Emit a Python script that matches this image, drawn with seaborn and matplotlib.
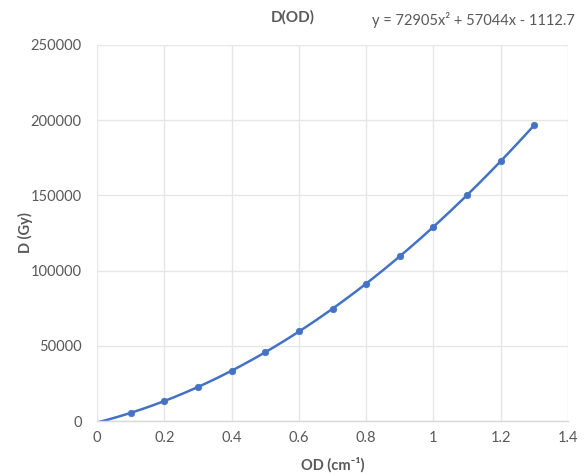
import numpy as np
import pandas as pd
import matplotlib
matplotlib.use("Agg")
import matplotlib.pyplot as plt
import seaborn as sns

# Data
od_values = [0.1, 0.2, 0.3, 0.4, 0.5, 0.6, 0.7, 0.8, 0.9, 1.0, 1.1, 1.2, 1.3]
dose_values = [5500, 13400, 22300, 33000, 46100, 59600, 74700, 91300,
               109500, 129100, 150000, 172900, 196800]
x_ticks = [0, 0.2, 0.4, 0.6, 0.8, 1.0, 1.2, 1.4]
x_tick_labels = ["0", "0.2", "0.4", "0.6", "0.8", "1", "1.2", "1.4"]
y_ticks = [0, 50000, 100000, 150000, 200000, 250000]
y_tick_labels = ["0", "50000", "100000", "150000", "200000", "250000"]
title_text = "D(OD)"
equation_text = "y = 72905x² + 57044x - 1112.7"
x_label = "OD (cm⁻¹)"
y_label = "D (Gy)"

sns.set_theme(style="whitegrid")
plt.rcParams["font.family"] = ["Lato", "DejaVu Sans"]

BLUE = "#4472C4"
GRAY_TXT = "#595959"
GRID = "#E6E6E6"

fig = plt.figure(figsize=(5.87, 4.73), dpi=100)
ax = fig.add_axes([97 / 587, 1 - 421 / 473, (568 - 97) / 587, (421 - 45) / 473])

df = pd.DataFrame({"OD": od_values, "D": dose_values})

# Polynomial (order 2) trendline fitted from the data
coef = np.polyfit(df["OD"], df["D"], 2)
xs = np.linspace(0, max(od_values), 200)
fit_df = pd.DataFrame({"OD": xs, "D": np.polyval(coef, xs)})

sns.lineplot(data=fit_df, x="OD", y="D", ax=ax, color=BLUE, linewidth=1.8)
sns.scatterplot(data=df, x="OD", y="D", ax=ax, color=BLUE, s=22,
                edgecolor=BLUE, linewidth=0.5, zorder=5)

ax.set_xlim(0, 1.4)
ax.set_ylim(0, 250000)
ax.set_xticks(x_ticks)
ax.set_xticklabels(x_tick_labels)
ax.set_yticks(y_ticks)
ax.set_yticklabels(y_tick_labels)
ax.tick_params(axis="both", length=0, labelsize=10.5, labelcolor=GRAY_TXT)
ax.tick_params(axis="y", pad=11)
ax.tick_params(axis="x", pad=7)

ax.grid(True, color=GRID, linewidth=1.0)
for side in ["top", "right", "left"]:
    ax.spines[side].set_visible(False)
ax.spines["bottom"].set_color("#D9D9D9")
ax.spines["bottom"].set_linewidth(1.0)
ax.set_facecolor("white")

ax.set_xlabel(x_label, fontsize=10.5, fontweight="bold", color=GRAY_TXT, va="center")
ax.set_ylabel(y_label, fontsize=10.5, fontweight="bold", color=GRAY_TXT, va="center")
ax.xaxis.set_label_coords(0.5, (421 - 465) / 376)
ax.yaxis.set_label_coords((25 - 97) / 471, 0.5)

fig.text(293 / 587, 1 - 17 / 473, title_text, ha="center", va="center",
         fontsize=11, fontweight="bold", color=GRAY_TXT)
fig.text(473 / 587, 1 - 20 / 473, equation_text, ha="center", va="center",
         fontsize=10.5, color=GRAY_TXT)

fig.savefig("out.png", dpi=100, facecolor="white")
